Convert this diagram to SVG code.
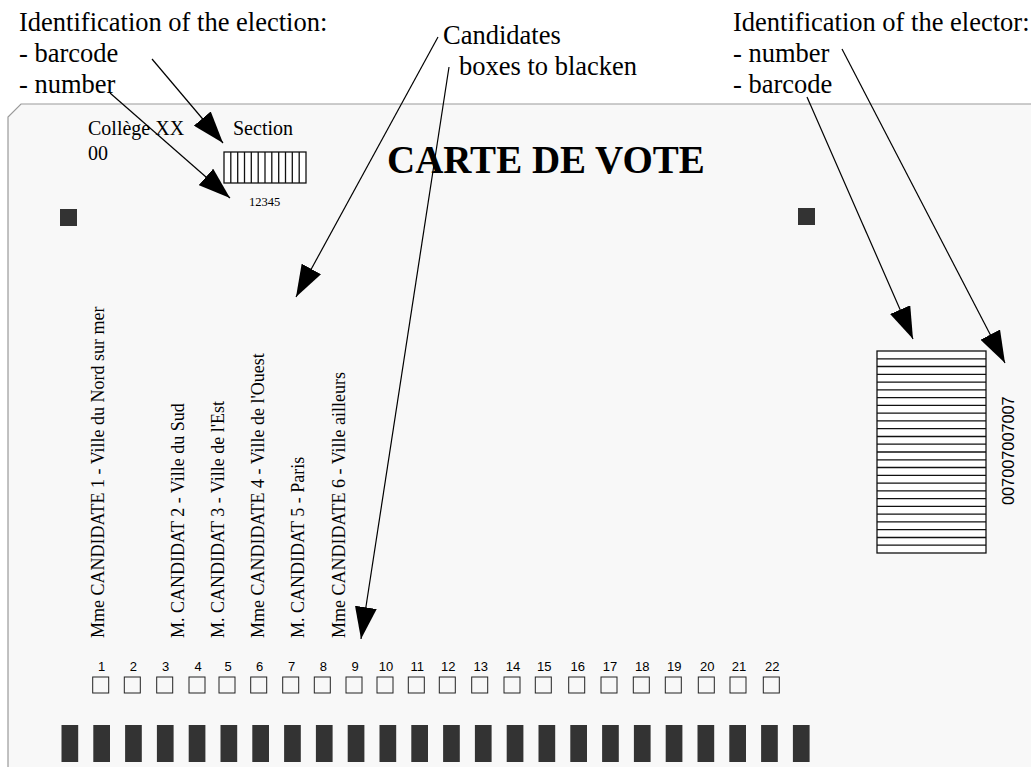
<svg xmlns="http://www.w3.org/2000/svg" width="1031" height="767" viewBox="0 0 1031 767">
<defs>
<style>
.serif{font-family:"Liberation Serif","Times New Roman",serif;fill:#000}
.sans{font-family:"Liberation Sans",Arial,sans-serif;fill:#000}
.hdr{font-size:26.5px}
.cand{font-size:18px}
.num{font-size:13px;text-anchor:middle}
.box{fill:none;stroke:#222;stroke-width:1}
.bar{fill:#333}
.conn{stroke:#000;stroke-width:1.2;fill:none}
.bc{stroke:#111;stroke-width:1.3}
</style>
<marker id="ah" viewBox="0 0 32 22" markerWidth="32" markerHeight="22" refX="32" refY="11" orient="auto" markerUnits="userSpaceOnUse">
<path d="M0,0 L32,11 L0,22 z" fill="#000"/>
</marker>
</defs>
<rect width="1031" height="767" fill="#fff"/>
<g id="card">
<path d="M8,780 L8,117 L21,104 L1045,104 L1045,780 z" fill="#f8f8f8" stroke="#9a9a9a" stroke-width="1.2"/>
</g>
<g id="label-election" class="serif hdr">
<text x="19" y="31">Identification of the election:</text>
<text x="19" y="62">- barcode</text>
<text x="19" y="93">- number</text>
</g>
<g id="label-candidates" class="serif hdr">
<text x="443" y="44">Candidates</text>
<text x="459" y="75">boxes to blacken</text>
</g>
<g id="label-elector" class="serif hdr">
<text x="733" y="31">Identification of the elector:</text>
<text x="733" y="62">- number</text>
<text x="733" y="93">- barcode</text>
</g>
<g id="college" class="serif" font-size="20">
<text x="88" y="135">Collège XX</text>
<text x="88" y="160">00</text>
<text x="233" y="135">Section</text>
</g>
<g id="election-barcode">
<rect x="224" y="152" width="82" height="31" fill="#fff" stroke="#111" stroke-width="1.3"/>
<g class="bc">
<line x1="230.8" y1="152" x2="230.8" y2="183"/>
<line x1="237.7" y1="152" x2="237.7" y2="183"/>
<line x1="244.5" y1="152" x2="244.5" y2="183"/>
<line x1="251.3" y1="152" x2="251.3" y2="183"/>
<line x1="258.2" y1="152" x2="258.2" y2="183"/>
<line x1="265" y1="152" x2="265" y2="183"/>
<line x1="271.8" y1="152" x2="271.8" y2="183"/>
<line x1="278.7" y1="152" x2="278.7" y2="183"/>
<line x1="285.5" y1="152" x2="285.5" y2="183"/>
<line x1="292.3" y1="152" x2="292.3" y2="183"/>
<line x1="299.2" y1="152" x2="299.2" y2="183"/>
</g>
<text class="serif" x="249" y="206" font-size="12.5">12345</text>
</g>
<g id="title">
<text class="serif" x="387" y="173" font-size="39" font-weight="bold">CARTE DE VOTE</text>
</g>
<g id="marks">
<rect class="bar" x="60" y="209" width="17" height="17"/>
<rect class="bar" x="798" y="208" width="17" height="17"/>
</g>
<g id="candidates" class="serif cand">
<text transform="translate(104,638) rotate(-90)">Mme CANDIDATE 1 - Ville du Nord sur mer</text>
<text transform="translate(184,638) rotate(-90)">M. CANDIDAT 2 - Ville du Sud</text>
<text transform="translate(224,638) rotate(-90)">M. CANDIDAT 3 - Ville de l'Est</text>
<text transform="translate(264,638) rotate(-90)">Mme CANDIDATE 4 - Ville de l'Ouest</text>
<text transform="translate(304,638) rotate(-90)">M. CANDIDAT 5 - Paris</text>
<text transform="translate(345,638) rotate(-90)">Mme CANDIDATE 6 - Ville ailleurs</text>
</g>
<g id="elector-barcode">
<rect x="877" y="351" width="109" height="202" fill="#fff" stroke="#111" stroke-width="1.3"/>
<g class="bc">
<line x1="877" y1="358.8" x2="986" y2="358.8"/>
<line x1="877" y1="366.5" x2="986" y2="366.5"/>
<line x1="877" y1="374.3" x2="986" y2="374.3"/>
<line x1="877" y1="382.1" x2="986" y2="382.1"/>
<line x1="877" y1="389.8" x2="986" y2="389.8"/>
<line x1="877" y1="397.6" x2="986" y2="397.6"/>
<line x1="877" y1="405.4" x2="986" y2="405.4"/>
<line x1="877" y1="413.2" x2="986" y2="413.2"/>
<line x1="877" y1="420.9" x2="986" y2="420.9"/>
<line x1="877" y1="428.7" x2="986" y2="428.7"/>
<line x1="877" y1="436.5" x2="986" y2="436.5"/>
<line x1="877" y1="444.2" x2="986" y2="444.2"/>
<line x1="877" y1="452" x2="986" y2="452"/>
<line x1="877" y1="459.8" x2="986" y2="459.8"/>
<line x1="877" y1="467.5" x2="986" y2="467.5"/>
<line x1="877" y1="475.3" x2="986" y2="475.3"/>
<line x1="877" y1="483.1" x2="986" y2="483.1"/>
<line x1="877" y1="490.8" x2="986" y2="490.8"/>
<line x1="877" y1="498.6" x2="986" y2="498.6"/>
<line x1="877" y1="506.4" x2="986" y2="506.4"/>
<line x1="877" y1="514.2" x2="986" y2="514.2"/>
<line x1="877" y1="521.9" x2="986" y2="521.9"/>
<line x1="877" y1="529.7" x2="986" y2="529.7"/>
<line x1="877" y1="537.5" x2="986" y2="537.5"/>
<line x1="877" y1="545.2" x2="986" y2="545.2"/>
</g>
<text class="sans" transform="translate(1014,505) rotate(-90)" font-size="16.3">007007007007</text>
</g>
<g id="vote-boxes">
<g class="sans num">
<text x="101.7" y="671">1</text><text x="133.3" y="671">2</text><text x="165.7" y="671">3</text><text x="198" y="671">4</text><text x="228" y="671">5</text><text x="259.7" y="671">6</text><text x="291.7" y="671">7</text><text x="323.3" y="671">8</text><text x="355" y="671">9</text><text x="386" y="671">10</text><text x="417.3" y="671">11</text><text x="448.3" y="671">12</text><text x="480.7" y="671">13</text><text x="513" y="671">14</text><text x="544.3" y="671">15</text><text x="577.7" y="671">16</text><text x="610" y="671">17</text><text x="642.3" y="671">18</text><text x="674.3" y="671">19</text><text x="707.3" y="671">20</text><text x="739" y="671">21</text><text x="772.3" y="671">22</text>
</g>
<g>
<rect class="box" x="92.7" y="677" width="16" height="16"/><rect class="box" x="124.3" y="677" width="16" height="16"/><rect class="box" x="156.7" y="677" width="16" height="16"/><rect class="box" x="189" y="677" width="16" height="16"/><rect class="box" x="219" y="677" width="16" height="16"/><rect class="box" x="250.7" y="677" width="16" height="16"/><rect class="box" x="282.7" y="677" width="16" height="16"/><rect class="box" x="314.3" y="677" width="16" height="16"/><rect class="box" x="346" y="677" width="16" height="16"/><rect class="box" x="377" y="677" width="16" height="16"/><rect class="box" x="408.3" y="677" width="16" height="16"/><rect class="box" x="439.3" y="677" width="16" height="16"/><rect class="box" x="471.7" y="677" width="16" height="16"/><rect class="box" x="504" y="677" width="16" height="16"/><rect class="box" x="535.3" y="677" width="16" height="16"/><rect class="box" x="568.7" y="677" width="16" height="16"/><rect class="box" x="601" y="677" width="16" height="16"/><rect class="box" x="633.3" y="677" width="16" height="16"/><rect class="box" x="665.3" y="677" width="16" height="16"/><rect class="box" x="698.3" y="677" width="16" height="16"/><rect class="box" x="730" y="677" width="16" height="16"/><rect class="box" x="763.3" y="677" width="16" height="16"/>
</g>
</g>
<g id="timing-bars">
<rect class="bar" x="61.5" y="725" width="16.7" height="37"/><rect class="bar" x="93.3" y="725" width="16.7" height="37"/><rect class="bar" x="125.1" y="725" width="16.7" height="37"/><rect class="bar" x="156.9" y="725" width="16.7" height="37"/><rect class="bar" x="188.7" y="725" width="16.7" height="37"/><rect class="bar" x="220.5" y="725" width="16.7" height="37"/><rect class="bar" x="252.3" y="725" width="16.7" height="37"/><rect class="bar" x="284.1" y="725" width="16.7" height="37"/><rect class="bar" x="315.9" y="725" width="16.7" height="37"/><rect class="bar" x="347.7" y="725" width="16.7" height="37"/><rect class="bar" x="379.5" y="725" width="16.7" height="37"/><rect class="bar" x="411.3" y="725" width="16.7" height="37"/><rect class="bar" x="443.1" y="725" width="16.7" height="37"/><rect class="bar" x="474.9" y="725" width="16.7" height="37"/><rect class="bar" x="506.7" y="725" width="16.7" height="37"/><rect class="bar" x="538.5" y="725" width="16.7" height="37"/><rect class="bar" x="570.3" y="725" width="16.7" height="37"/><rect class="bar" x="602.1" y="725" width="16.7" height="37"/><rect class="bar" x="633.9" y="725" width="16.7" height="37"/><rect class="bar" x="665.7" y="725" width="16.7" height="37"/><rect class="bar" x="697.5" y="725" width="16.7" height="37"/><rect class="bar" x="729.3" y="725" width="16.7" height="37"/><rect class="bar" x="761.1" y="725" width="16.7" height="37"/><rect class="bar" x="792.9" y="725" width="16.7" height="37"/>
</g>
<g id="connectors">
<line class="conn" x1="152" y1="59" x2="223" y2="143" marker-end="url(#ah)"/>
<line class="conn" x1="110" y1="93" x2="230" y2="198" marker-end="url(#ah)"/>
<line class="conn" x1="438" y1="37" x2="296" y2="297" marker-end="url(#ah)"/>
<line class="conn" x1="449" y1="67" x2="361" y2="639" marker-end="url(#ah)"/>
<line class="conn" x1="842" y1="49" x2="1005" y2="363" marker-end="url(#ah)"/>
<line class="conn" x1="807" y1="97" x2="913" y2="339" marker-end="url(#ah)"/>
</g>
</svg>
